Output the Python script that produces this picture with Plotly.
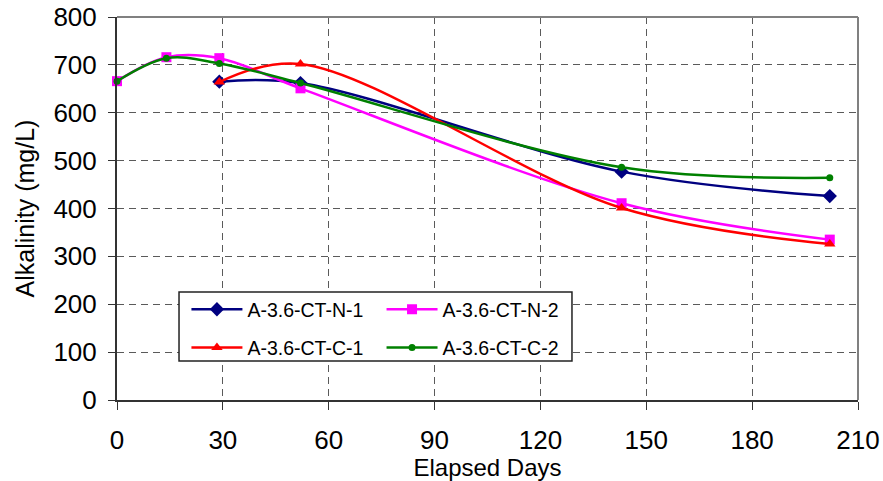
import plotly.graph_objects as go

days_n1 = [29, 52, 143, 202]
alk_n1 = [665, 662, 477, 426]
days_n2 = [0, 14, 29, 52, 143, 202]
alk_n2 = [666, 716, 714, 651, 411, 335]
days_c1 = [29, 52, 143, 202]
alk_c1 = [664, 702, 401, 326]
days_c2 = [0, 14, 29, 52, 143, 202]
alk_c2 = [666, 714, 703, 662, 486, 464]

x_ticks = [0, 30, 60, 90, 120, 150, 180, 210]
y_ticks = [0, 100, 200, 300, 400, 500, 600, 700, 800]

FONT = "Liberation Sans, Arial, sans-serif"

fig = go.Figure()

def add(name, x, y, color, symbol, size, legend):
    fig.add_trace(go.Scatter(
        x=x, y=y, name=name, mode="lines+markers",
        line=dict(color=color, width=2.5, shape="spline", smoothing=1),
        marker=dict(color=color, symbol=symbol, size=size, line=dict(width=0)),
        cliponaxis=False, legend=legend, legendgroup=name,
    ))

add("A-3.6-CT-N-1", days_n1, alk_n1, "#000080", "diamond", 11, "legend")
add("A-3.6-CT-N-2", days_n2, alk_n2, "#FF00FF", "square", 10, "legend2")
add("A-3.6-CT-C-1", days_c1, alk_c1, "#FF0000", "triangle-up", 10, "legend")
add("A-3.6-CT-C-2", days_c2, alk_c2, "#008000", "circle", 7, "legend2")

grid = dict(showgrid=True, gridcolor="#5a5a5a", gridwidth=1, griddash="7px,5px")

fig.update_layout(
    width=883, height=481,
    margin=dict(l=117, r=25, t=17, b=81),
    paper_bgcolor="white", plot_bgcolor="white",
    font=dict(family=FONT, color="black"),
    xaxis=dict(
        range=[0, 210], tickvals=x_ticks, ticktext=[str(v) for v in x_ticks],
        ticks="outside", ticklen=8, tickcolor="#333", tickwidth=1,
        showline=True, linecolor="#333", linewidth=2, automargin=False,
        tickfont=dict(size=26), ticklabelstandoff=8,
        title=dict(text="Elapsed Days", font=dict(size=24), standoff=0),
        zeroline=False, **grid,
    ),
    yaxis=dict(
        range=[0, 800], tickvals=y_ticks, ticktext=[str(v) for v in y_ticks],
        ticks="outside", ticklen=7, tickcolor="#333", tickwidth=1,
        showline=True, linecolor="#333", linewidth=2, automargin=False,
        tickfont=dict(size=26), ticklabelstandoff=6,
        title=dict(text="Alkalinity (mg/L)", font=dict(size=25), standoff=12),
        zeroline=False, **grid,
    ),
    legend=dict(x=0.0937, y=0.287, xanchor="left", yanchor="top",
                bgcolor="rgba(0,0,0,0)", font=dict(size=19.5),
                tracegroupgap=10, itemwidth=51),
    legend2=dict(x=0.357, y=0.287, xanchor="left", yanchor="top",
                 bgcolor="rgba(0,0,0,0)", font=dict(size=19.5),
                 tracegroupgap=10, itemwidth=51),
    shapes=[
        dict(type="line", xref="paper", yref="paper", x0=0, x1=1, y0=1, y1=1,
             line=dict(color="#808080", width=2)),
        dict(type="line", xref="paper", yref="paper", x0=1, x1=1, y0=0, y1=1,
             line=dict(color="#808080", width=2)),
        dict(type="rect", xref="paper", yref="paper", x0=0.0837, x1=0.614,
             y0=0.102, y1=0.282, layer="above",
             fillcolor="white", line=dict(color="#222", width=1.5)),
    ],
)

fig.write_html("out.html")
